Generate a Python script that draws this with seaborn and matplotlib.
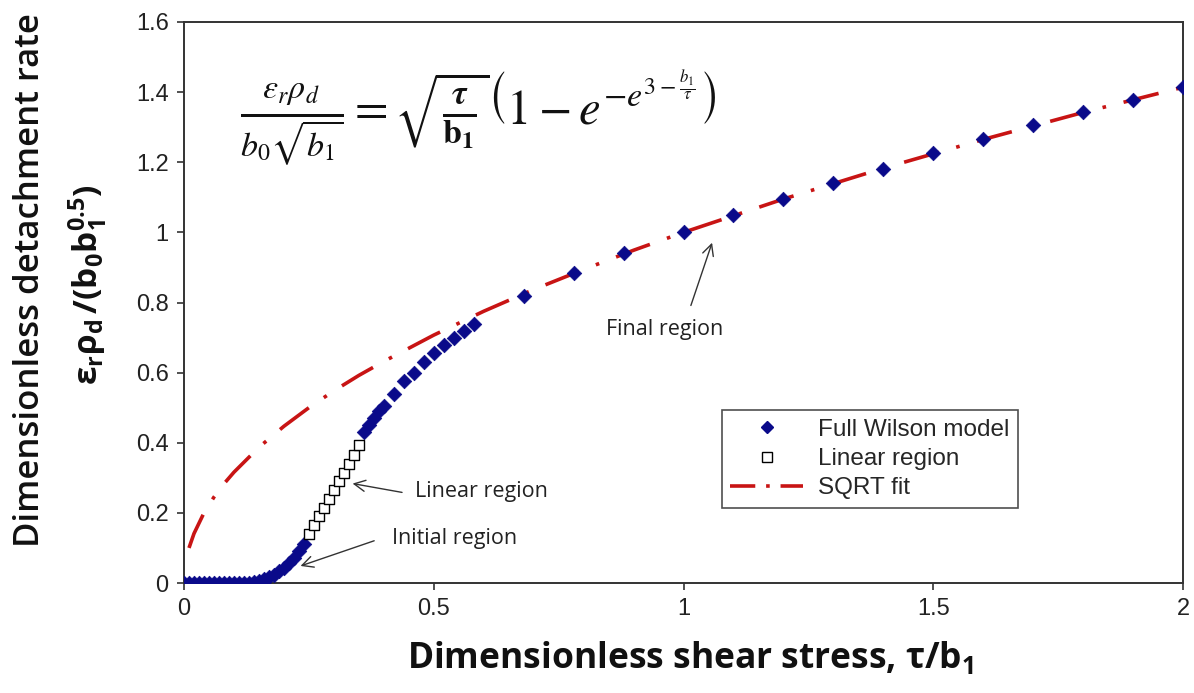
import numpy as np
import pandas as pd
import seaborn as sns
import matplotlib
matplotlib.use("Agg")
import matplotlib.pyplot as plt
from matplotlib.lines import Line2D

# ---------------- data ----------------
x_wilson = [0.00, 0.01, 0.02, 0.03, 0.04, 0.05, 0.06, 0.07, 0.08, 0.09, 0.10,
            0.11, 0.12, 0.13, 0.14, 0.15, 0.16, 0.17, 0.18, 0.19, 0.20, 0.21,
            0.22, 0.23, 0.24, 0.36, 0.37, 0.38, 0.39, 0.40, 0.42, 0.44, 0.46,
            0.48, 0.50, 0.52, 0.54, 0.56, 0.58, 0.68, 0.78, 0.88, 1.00, 1.10,
            1.20, 1.30, 1.40, 1.50, 1.60, 1.70, 1.80, 1.90, 2.00]
y_wilson = [0.000, 0.000, 0.000, 0.000, 0.000, 0.000, 0.000, 0.000, 0.000, 0.000, 0.000,
            0.000, 0.000, 0.001, 0.003, 0.006, 0.011, 0.017, 0.024, 0.033, 0.044, 0.057,
            0.072, 0.090, 0.110, 0.430, 0.450, 0.470, 0.490, 0.505, 0.540, 0.575, 0.600,
            0.630, 0.655, 0.680, 0.700, 0.720, 0.740, 0.819, 0.885, 0.941, 1.000, 1.050,
            1.095, 1.140, 1.182, 1.225, 1.265, 1.305, 1.342, 1.378, 1.414]

x_linear = [0.25, 0.26, 0.27, 0.28, 0.29, 0.30, 0.31, 0.32, 0.33, 0.34, 0.35]
y_linear = [0.140, 0.165, 0.190, 0.215, 0.240, 0.265, 0.290, 0.315, 0.340, 0.365, 0.395]

x_fit = [0.01, 0.02, 0.04, 0.06, 0.08, 0.10, 0.15, 0.20, 0.25, 0.30, 0.35, 0.40,
         0.50, 0.60, 0.70, 0.80, 0.90, 1.00, 1.20, 1.40, 1.60, 1.80, 2.00]
y_fit = [0.100, 0.141, 0.200, 0.245, 0.283, 0.316, 0.387, 0.447, 0.500, 0.548, 0.592, 0.632,
         0.707, 0.775, 0.837, 0.894, 0.949, 1.000, 1.095, 1.183, 1.265, 1.342, 1.414]

series_labels = ["Full Wilson model", "Linear region", "SQRT fit"]
x_ticks = [0, 0.5, 1, 1.5, 2]
x_tick_labels = ["0", "0.5", "1", "1.5", "2"]
y_ticks = [0, 0.2, 0.4, 0.6, 0.8, 1.0, 1.2, 1.4, 1.6]
y_tick_labels = ["0", "0.2", "0.4", "0.6", "0.8", "1", "1.2", "1.4", "1.6"]

# ---------------- style ----------------
sns.set_theme(style="white")
plt.rcParams["font.family"] = ["Liberation Sans", "DejaVu Sans"]
plt.rcParams["mathtext.fontset"] = "custom"
plt.rcParams["mathtext.rm"] = "Open Sans"
plt.rcParams["mathtext.it"] = "Open Sans:italic"
plt.rcParams["mathtext.bf"] = "Open Sans:bold"

BLUE = "#0a0a8a"
RED = "#c81414"
LABEL_FONT = ["Open Sans", "DejaVu Sans"]

fig = plt.figure(figsize=(11.94, 6.93), dpi=100)
ax = fig.add_axes([184 / 1194, 1 - 583 / 693, 999 / 1194, 561 / 693])

df_fit = pd.DataFrame({"x": x_fit, "y": y_fit})
df_w = pd.DataFrame({"x": x_wilson, "y": y_wilson})
df_l = pd.DataFrame({"x": x_linear, "y": y_linear})

sns.lineplot(data=df_fit, x="x", y="y", ax=ax, color=RED, lw=2.6,
             linestyle=(0, (10, 5, 1, 5)), zorder=2, label=series_labels[2])
sns.scatterplot(data=df_w, x="x", y="y", ax=ax, marker="D", s=55, color=BLUE,
                edgecolor=BLUE, linewidth=0.5, zorder=3, label=series_labels[0])
sns.scatterplot(data=df_l, x="x", y="y", ax=ax, marker="s", s=45, facecolor="white",
                edgecolor="black", linewidth=1.0, zorder=4, label=series_labels[1])

ax.set_xlim(0, 2)
ax.set_ylim(0, 1.6)
ax.set_xticks(x_ticks)
ax.set_xticklabels(x_tick_labels)
ax.set_yticks(y_ticks)
ax.set_yticklabels(y_tick_labels)
ax.tick_params(axis="both", direction="out", length=5, width=1.2, color="#333333",
               labelsize=17, labelcolor="#222222", pad=6, bottom=True, left=True)
for sp in ax.spines.values():
    sp.set_color("#333333")
    sp.set_linewidth(1.4)
ax.set_xlabel("")
ax.set_ylabel("")

# legend
handles = [
    Line2D([], [], marker="D", color=BLUE, linestyle="none", markersize=6.5),
    Line2D([], [], marker="s", markerfacecolor="white", markeredgecolor="black",
           linestyle="none", markersize=6.5),
    Line2D([], [], color=RED, lw=2.6, linestyle=(0, (7, 3, 1, 3))),
]
leg = ax.legend(handles, series_labels, loc="upper left",
                bbox_to_anchor=(0.5385, 0.308), borderaxespad=0, fontsize=17.5,
                frameon=True, fancybox=False, edgecolor="#222222",
                handlelength=3.0, handletextpad=0.6, borderpad=0.35,
                labelspacing=0.3)
leg.get_frame().set_linewidth(1.2)

# axis labels
fig.text(690 / 1194, 1 - 658 / 693,
         r"Dimensionless shear stress, τ/b$\mathbf{_1}$",
         ha="center", va="center", fontsize=25.5, fontweight="bold",
         family=LABEL_FONT, color="#111111")
fig.text(30 / 1194, 1 - 280 / 693, "Dimensionless detachment rate",
         rotation=90, ha="center", va="center", fontsize=25,
         family=LABEL_FONT, fontweight="semibold", color="#111111")
fig.text(88 / 1194, 1 - 285 / 693, r"$\mathbf{ε_rρ_d\,/(b_0b_1^{0.5})}$",
         rotation=90, ha="center", va="center", fontsize=24,
         family=LABEL_FONT, color="#111111")

# formula
fig.text(478 / 1194, 1 - 118 / 693,
         r"$\frac{\varepsilon_r\rho_d}{b_0\sqrt{b_1}}=\sqrt{\frac{\boldsymbol{\tau}}{\mathbf{b_1}}}\left(1-e^{-e^{3-\frac{b_1}{\tau}}}\right)$",
         ha="center", va="center", fontsize=35, math_fontfamily="stix",
         color="#111111")

# annotations
arrow_kw = dict(arrowstyle="->", color="#333333", lw=1.0, mutation_scale=20)
ax.annotate("", xy=(0.332, 0.285), xytext=(0.442, 0.257), arrowprops=arrow_kw)
ax.text(0.462, 0.26, "Linear region", ha="left", va="center", fontsize=15.5,
        family=LABEL_FONT, color="#222222")
ax.annotate("", xy=(0.228, 0.046), xytext=(0.386, 0.123), arrowprops=arrow_kw)
ax.text(0.416, 0.128, "Initial region", ha="left", va="center", fontsize=15.5,
        family=LABEL_FONT, color="#222222")
ax.annotate("", xy=(1.059, 0.978), xytext=(1.013, 0.784), arrowprops=arrow_kw)
ax.text(0.963, 0.722, "Final region", ha="center", va="center", fontsize=15.5,
        family=LABEL_FONT, color="#222222")

fig.savefig("out.png", dpi=100, facecolor="white")
